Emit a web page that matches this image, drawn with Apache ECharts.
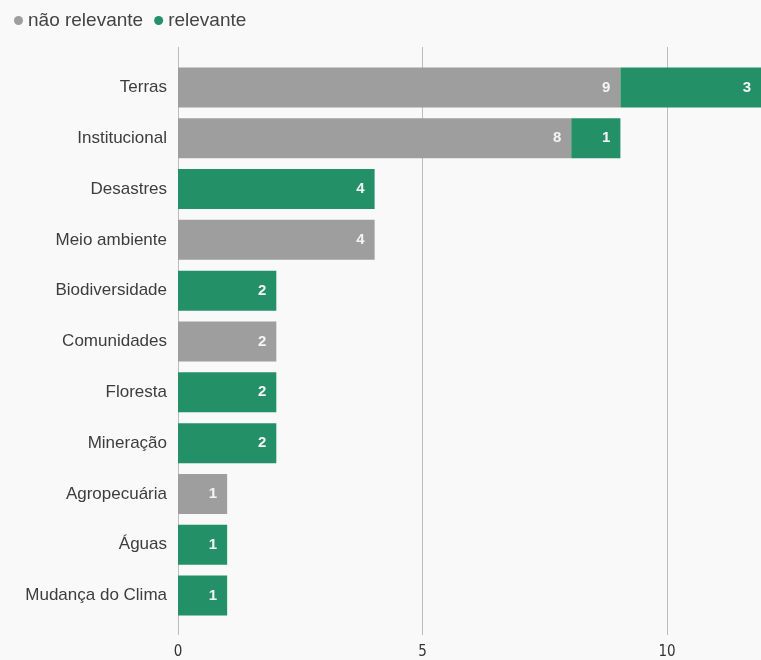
<!DOCTYPE html>
<html>
<head>
<meta charset="utf-8">
<script src="https://cdn.jsdelivr.net/npm/echarts@6/dist/echarts.min.js"></script>
<style>
  html, body { margin: 0; padding: 0; background: #f9f9f9; }
  #chart { width: 761px; height: 660px; }
</style>
</head>
<body>
<div id="chart"></div>
<script>
// categories top to bottom
const categories = ['Terras', 'Institucional', 'Desastres', 'Meio ambiente', 'Biodiversidade',
  'Comunidades', 'Floresta', 'Mineração', 'Agropecuária', 'Águas', 'Mudança do Clima']
const naoRelevante = [9, 8, 0, 4, 0, 2, 0, 0, 1, 0, 0]
const relevante = [3, 1, 4, 0, 2, 0, 2, 2, 0, 1, 1]
const xTicks = [0, 5, 10]
// visible part of the axis (the reference is cropped a bit before 12)
const xMax = 11.86

const chart = echarts.init(document.getElementById('chart'))

const barLabel = {
  show: true,
  position: 'insideRight',
  distance: 10,
  color: '#f4f4f4',
  fontWeight: 'bold',
  fontSize: 15,
  fontFamily: 'Liberation Sans, Arial, sans-serif',
  formatter: p => (p.value ? p.value : '')
}

chart.setOption({
  backgroundColor: '#f9f9f9',
  animation: false,
  legend: {
    left: 9,
    top: 6,
    icon: 'circle',
    itemWidth: 9,
    itemHeight: 9,
    itemGap: 11,
    textStyle: { color: '#444', fontSize: 19, fontFamily: 'Liberation Sans, Arial, sans-serif', padding: [0, 0, 0, 0] },
    data: ['não relevante', 'relevante']
  },
  grid: [
    // grid for vertical grid lines and tick labels
    { left: 178, right: 0, top: 47, height: 588 },
    // grid for the bars
    { left: 178, right: 0, top: 62, height: 559 }
  ],
  xAxis: [
    {
      gridIndex: 0,
      type: 'value',
      min: 0,
      max: xMax,
      interval: 5,
      axisLine: { show: false },
      axisTick: { show: false },
      splitLine: { show: true, showMaxLine: false, lineStyle: { color: '#bdbdbd', width: 1 } },
      axisLabel: {
        color: '#333',
        fontSize: 15,
        margin: 10,
        fontFamily: 'DejaVu Sans Condensed, sans-serif',
        formatter: v => (xTicks.includes(v) ? String(v) : '')
      }
    },
    {
      gridIndex: 1,
      type: 'value',
      min: 0,
      max: xMax,
      show: false
    }
  ],
  yAxis: [
    { gridIndex: 0, type: 'category', data: categories, show: false },
    {
      gridIndex: 1,
      type: 'category',
      inverse: true,
      data: categories,
      axisLine: { show: false },
      axisTick: { show: false },
      axisLabel: {
        color: '#3d3d3d',
        fontSize: 17,
        margin: 11,
        fontFamily: 'Liberation Sans, Arial, sans-serif'
      }
    }
  ],
  series: [
    {
      name: 'não relevante',
      type: 'bar',
      stack: 'total',
      xAxisIndex: 1,
      yAxisIndex: 1,
      barWidth: 40,
      itemStyle: { color: '#9e9e9e' },
      label: barLabel,
      data: naoRelevante
    },
    {
      name: 'relevante',
      type: 'bar',
      stack: 'total',
      xAxisIndex: 1,
      yAxisIndex: 1,
      barWidth: 40,
      itemStyle: { color: '#239068' },
      label: barLabel,
      data: relevante
    }
  ]
})
</script>
</body>
</html>
